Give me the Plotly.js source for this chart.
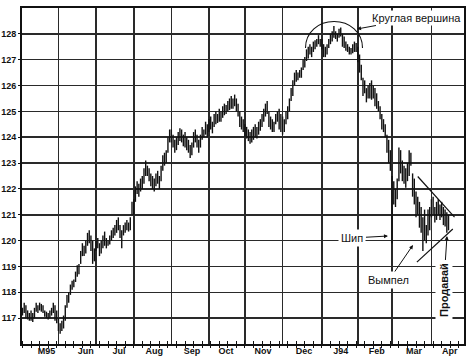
<!DOCTYPE html>
<html><head><meta charset="utf-8">
<script src="https://cdn.plot.ly/plotly-3.0.1.min.js"></script>
<style>html,body{margin:0;padding:0;background:#fff}#chart{width:475px;height:357px}</style>
</head><body><div id="chart"></div>
<script>
// ---- data (daily high / low, one entry per trading day, first day 1993-05-03) ----
const firstDay = '1993-05-03';
const highMay93 = [117.4,117.6,117.5,117.3,117.2,117.3,117.2,117.4,117.6,117.5,117.6,117.55,117.5,117.3,117.25,117.2,117.3,117.4,117.6,117.5,117.3];
const lowMay93  = [117.1,117.2,117.0,116.95,116.9,116.9,116.85,117.0,117.25,117.2,117.3,117.25,117.2,117.05,117.0,116.95,117.0,117.1,117.2,116.9,116.8];
const highJun93 = [117.0,116.8,116.9,117.1,117.5,117.9,118.0,118.3,118.45,118.5,118.8,119.05,119.1,119.6,119.9,119.8,120.0,120.3,120.4,120.2,120.0,119.7];
const lowJun93  = [116.5,116.4,116.5,116.6,116.9,117.4,117.6,117.9,118.1,118.2,118.4,118.6,118.7,119.1,119.4,119.4,119.5,119.8,119.9,119.6,119.1,119.2];
const highJul93 = [120.0,120.1,119.9,120.0,120.2,120.35,120.1,120.0,120.2,120.4,120.5,120.6,120.8,120.9,120.6,120.4,120.6,120.7,120.8,120.7,120.9,121.5];
const lowJul93  = [119.6,119.7,119.4,119.5,119.7,119.8,119.7,119.8,119.85,120.0,120.1,120.2,120.3,120.4,120.1,119.7,120.2,120.3,120.4,120.35,120.4,121.0];
const highAug93 = [121.6,122.1,122.3,122.2,122.4,122.5,122.8,123.1,122.9,122.8,122.6,122.5,122.4,122.6,122.7,122.5,122.9,123.3,123.4,123.5,124.0,124.3];
const lowAug93  = [121.0,121.5,121.8,121.7,121.9,122.0,122.2,122.5,122.5,122.3,122.1,122.0,121.9,122.1,122.2,122.0,122.3,122.7,122.9,123.0,123.4,123.8];
const highSep93 = [124.3,124.1,123.9,124.0,124.2,124.35,124.3,124.1,124.2,124.0,123.9,123.7,123.8,124.2,124.3,124.1,123.9,124.1,124.4,124.3,124.6,124.5];
const lowSep93  = [123.8,123.6,123.4,123.5,123.7,123.85,123.8,123.65,123.6,123.5,123.4,123.2,123.3,123.6,123.8,123.6,123.4,123.6,123.9,124.0,124.1,124.0];
const highOct93 = [124.7,124.8,124.6,124.9,125.0,124.9,125.1,125.0,125.2,125.3,125.25,125.4,125.5,125.6,125.5,125.65,125.5,125.3,125.0,124.8,124.7];
const lowOct93  = [124.2,124.3,124.15,124.4,124.5,124.55,124.6,124.6,124.75,124.85,124.9,125.0,125.05,125.1,125.1,125.2,125.0,124.8,124.4,124.3,124.2];
const highNov93 = [124.5,124.4,124.3,124.2,124.3,124.4,124.5,124.4,124.6,124.7,124.9,125.1,125.3,125.4,125.0,124.8,124.7,124.6,124.9,125.0,125.1,124.9];
const lowNov93  = [124.0,123.95,123.85,123.75,123.8,123.9,124.0,123.95,124.1,124.25,124.4,124.6,124.8,124.9,124.4,124.3,124.2,124.2,124.5,124.6,124.3,124.2];
const highDec93 = [124.8,124.7,125.0,125.2,125.5,125.9,126.2,126.5,126.6,126.5,126.6,126.7,127.0,127.1,127.4,127.5,127.6,127.5,127.7,127.75,127.8,127.95,127.8];
const lowDec93  = [124.1,124.2,124.5,124.7,125.0,125.4,125.6,126.0,126.15,126.2,126.3,126.3,126.6,126.7,126.95,127.05,127.2,127.1,127.3,127.4,127.5,127.6,127.5];
const highJan94 = [127.8,127.6,127.5,127.6,127.8,128.0,128.1,128.3,128.1,128.0,128.2,128.25,128.0,127.9,127.7,127.6,127.5,127.45,127.6,127.7,127.65];
const lowJan94  = [127.4,127.1,127.1,127.2,127.45,127.6,127.7,127.85,127.8,127.7,127.85,127.9,127.5,127.45,127.35,127.3,127.2,127.2,127.25,127.3,127.3];
const highFeb94 = [127.5,127.2,126.8,126.3,126.2,125.9,126.0,126.1,126.2,126.0,125.9,125.7,125.4,125.2,124.9,124.7,124.5,124.1,123.9,123.5];
const lowFeb94  = [126.9,126.5,126.2,125.6,125.7,125.35,125.5,125.5,125.45,125.5,125.2,125.1,125.0,124.7,124.3,124.2,124.0,123.4,123.0,122.7];
const highMar94 = [122.5,122.3,122.0,122.4,123.6,123.5,123.1,122.9,122.8,123.0,123.5,123.4,122.6,122.4,121.9,121.7,121.5,121.3,120.9,121.2,120.6,121.2,121.3];
const lowMar94  = [119.9,121.4,121.3,121.6,122.3,122.6,122.3,122.2,122.05,122.3,122.5,122.9,121.7,121.4,120.9,121.0,120.5,120.3,119.6,120.0,119.9,120.2,120.4];
const highApr94 = [121.6,121.7,121.3,121.5,121.6,121.4,121.5,121.3,121.2,121.1,121.0];
const lowApr94  = [120.9,121.0,120.7,120.8,121.0,120.8,120.9,120.6,120.55,120.3,120.4];

const monthStarts = ['1993-06-01','1993-07-01','1993-08-02','1993-09-01','1993-10-01','1993-11-01','1993-12-01','1994-01-03','1994-02-01','1994-03-01','1994-04-01'];
const monthLabelDates = ['1993-05-21','1993-06-23','1993-07-20 09:00','1993-08-18','1993-09-17','1993-10-15','1993-11-15 12:00','1993-12-17 12:00','1994-01-18','1994-02-16','1994-03-17 18:00','1994-04-15 18:00'];
const monthLabels = ['M95','Jun','Jul','Aug','Sep','Oct','Nov','Dec','J94','Feb','Mar','Apr'];
const priceTicks = [117,118,119,120,121,122,123,124,125,126,127,128];

// pennant boundary lines (date, price)
const pennantUpper = {x:['1994-03-22','1994-04-20 12:00'], y:[122.48,120.91]};
const pennantLower = {x:['1994-03-21 12:00','1994-04-19 12:00'], y:[119.17,120.45]};

// ---- build ----
const highs = [].concat(highMay93,highJun93,highJul93,highAug93,highSep93,highOct93,highNov93,highDec93,highJan94,highFeb94,highMar94,highApr94);
const lows  = [].concat(lowMay93,lowJun93,lowJul93,lowAug93,lowSep93,lowOct93,lowNov93,lowDec93,lowJan94,lowFeb94,lowMar94,lowApr94);
function weekdays(start, n){
  const out=[]; const d=new Date(start+'T00:00:00Z');
  while(out.length<n){ const w=d.getUTCDay(); if(w!==0&&w!==6) out.push(d.toISOString().slice(0,10)); d.setUTCDate(d.getUTCDate()+1); }
  return out;
}
const dates = weekdays(firstDay, highs.length);
const bx=[], by=[];
for(let i=0;i<highs.length;i++){ bx.push(dates[i],dates[i],null); by.push(lows[i],highs[i],null); }

const xRange = ['1993-04-30 17:00','1994-04-28 01:00'];
const breaks = [{bounds:['sat','mon']}];
const ink = '#111';
const gridC = '#2a2a2a';
const lblFont = {family:'Liberation Sans, Arial, sans-serif', size:9, color:ink, weight:700};
const annFont = {family:'Liberation Sans, Arial, sans-serif', size:11, color:ink};
const week = 7*86400000;

const data = [
  {type:'scatter', mode:'lines', x:bx, y:by, xaxis:'x', yaxis:'y',
   line:{color:ink, width:1.4}, hoverinfo:'skip', connectgaps:false},
  // anchors the month-label axis (draws nothing)
  {type:'scatter', mode:'markers', x:[dates[0]], y:[null], xaxis:'x2', yaxis:'y', hoverinfo:'skip', marker:{opacity:0}}
];

const layout = {
  width:475, height:357, margin:{l:22, r:11, t:8, b:13},
  paper_bgcolor:'#fff', plot_bgcolor:'#fff', showlegend:false,
  xaxis:{type:'date', range:xRange, rangebreaks:breaks, tickmode:'array', tickvals:monthStarts,
    showticklabels:false, ticks:'', showgrid:true, gridcolor:gridC, gridwidth:1.6,
    showline:true, linecolor:ink, linewidth:2, mirror:true, zeroline:false,
    minor:{ticks:'inside', ticklen:3, tickcolor:ink, tickwidth:1, dtick:week, tick0:firstDay, showgrid:false}},
  xaxis2:{type:'date', overlaying:'x', anchor:'y', side:'bottom', range:xRange, rangebreaks:breaks,
    tickmode:'array', tickvals:monthLabelDates, ticktext:monthLabels, ticks:'', showgrid:false,
    showline:false, zeroline:false, tickfont:lblFont,
    minor:{ticks:'outside', ticklen:3, tickcolor:ink, tickwidth:1, dtick:week, tick0:firstDay, showgrid:false}},
  yaxis:{range:[116,129], tickmode:'array', tickvals:priceTicks, ticks:'outside', ticklen:2, tickcolor:ink,
    showgrid:true, gridcolor:gridC, gridwidth:1.6, showline:true, linecolor:ink, linewidth:2, mirror:true,
    zeroline:false, tickfont:lblFont},
  shapes:[
    {type:'path', xref:'paper', yref:'paper',
     path:'M 0.6414 0.881 C 0.6414 0.9277 0.6704 0.9598 0.7059 0.9598 C 0.7414 0.9598 0.7704 0.9277 0.7704 0.881',
     line:{color:ink, width:1.1}},
    {type:'line', xref:'x', yref:'y', x0:pennantUpper.x[0], y0:pennantUpper.y[0], x1:pennantUpper.x[1], y1:pennantUpper.y[1], line:{color:ink, width:1.2}},
    {type:'line', xref:'x', yref:'y', x0:pennantLower.x[0], y0:pennantLower.y[0], x1:pennantLower.x[1], y1:pennantLower.y[1], line:{color:ink, width:1.2}}
  ],
  annotations:[
    {text:'Круглая вершина', xref:'paper', yref:'paper', x:0.758, y:0.9375, ax:59.5, ay:-11,
     showarrow:true, arrowhead:2, arrowsize:0.8, arrowwidth:1, arrowcolor:ink, font:annFont, bgcolor:'#fff', borderpad:1},
    {text:'Шип', xref:'paper', yref:'paper', x:0.828, y:0.3214, ax:-35.5, ay:2,
     showarrow:true, arrowhead:2, arrowsize:0.8, arrowwidth:1, arrowcolor:ink, font:annFont, bgcolor:'#fff', borderpad:2},
    {text:'Вымпел', xref:'paper', yref:'paper', x:0.8846, y:0.2946, ax:-24, ay:35,
     showarrow:true, arrowhead:2, arrowsize:0.8, arrowwidth:1, arrowcolor:ink, font:annFont, bgcolor:'#fff', borderpad:2},
    {text:'Продавай', xref:'paper', yref:'paper', x:0.9615, y:0.3214, ax:-3.5, ay:53.5, textangle:-90,
     showarrow:true, arrowhead:2, arrowsize:0.8, arrowwidth:1, arrowcolor:ink,
     font:{family:'Liberation Sans, Arial, sans-serif', size:11, color:ink, weight:700}, bgcolor:'#fff', borderpad:2}
  ]
};

Plotly.newPlot('chart', data, layout, {staticPlot:true, displayModeBar:false});
</script>
</body></html>
